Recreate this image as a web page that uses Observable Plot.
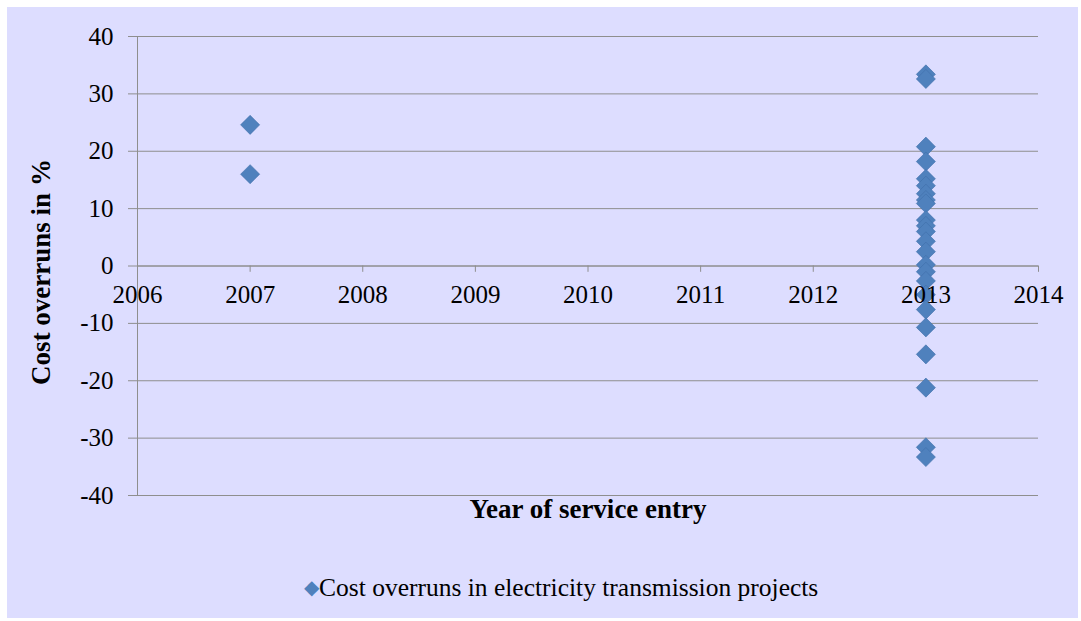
<!DOCTYPE html>
<html>
<head>
<meta charset="utf-8">
<script src="https://cdn.jsdelivr.net/npm/d3@7"></script>
<script src="https://cdn.jsdelivr.net/npm/@observablehq/plot@0.6"></script>
<style>
  html, body { margin: 0; padding: 0; background: #ffffff; }
  #wrap { position: relative; width: 1081px; height: 621px; overflow: hidden; }
  #bg { position: absolute; left: 7px; top: 7px; width: 1071px; height: 611px; background: #DDDDFF; }
  #chart { position: absolute; left: 0; top: 0; }
  #legend { position: absolute; left: 304px; top: 572px; white-space: nowrap; line-height: 30px;
    font-family: "Liberation Serif", "Times New Roman", serif; font-size: 25.5px; color: #000; }
  #legend .sw { color: #4F81BD; font-size: 20px; vertical-align: 2px; }
</style>
</head>
<body>
<div id="wrap">
  <div id="bg"></div>
  <div id="chart"></div>
  <div id="legend"><span class="sw">&#9670;</span>Cost overruns in electricity transmission projects</div>
</div>
<script>
// Data
const years2007 = [2007, 2007];
const values2007 = [24.6, 16.0];
const values2013 = [33.4, 32.6, 20.8, 18.2, 15.2, 14.0, 12.6, 11.5, 10.9, 8.0, 7.0, 6.0, 4.3, 2.5, 0.2, -1.0, -2.6, -5.0, -7.6, -10.7, -15.4, -21.2, -31.6, -33.3];
const xTicks = [2006, 2007, 2008, 2009, 2010, 2011, 2012, 2013, 2014];
const yTicks = [-40, -30, -20, -10, 0, 10, 20, 30, 40];
const xLabel = "Year of service entry";
const yLabel = "Cost overruns in %";
const seriesName = "Cost overruns in electricity transmission projects";

const points = [
  ...values2007.map((v, i) => ({year: years2007[i], value: v})),
  ...values2013.map(v => ({year: 2013, value: v}))
];

const font = "Liberation Serif, Times New Roman, serif";
const gridColor = "#8e8e8e";

const chart = Plot.plot({
  width: 1081,
  height: 621,
  marginLeft: 137,
  marginRight: 43,
  marginTop: 36,
  marginBottom: 126,
  style: {background: "transparent", fontFamily: font, fontSize: "25px", color: "#000"},
  x: {domain: [2006, 2014], axis: null},
  y: {domain: [-40, 40], axis: null},
  marks: [
    Plot.gridY(yTicks, {stroke: gridColor, strokeOpacity: 1, strokeWidth: 1}),
    Plot.axisY(yTicks, {tickSize: 9, tickPadding: 15, stroke: gridColor, strokeOpacity: 1, tickFormat: d => String(d), fontSize: 25, fill: "#000", label: null}),
    Plot.ruleX([2006], {stroke: gridColor, strokeWidth: 1}),
    Plot.ruleY([0], {stroke: gridColor, strokeWidth: 1}),
    Plot.ruleX(xTicks, {x: d => d, y1: 0, y2: -1.1, stroke: gridColor, strokeWidth: 1}),
    Plot.dot(points, {x: "year", y: "value", symbol: "diamond2", r: 8.6, fill: "#4F81BD", stroke: "#3f6fa9", strokeWidth: 0.6}),
    Plot.text(xTicks, {x: d => d, y: 0, dy: 29, text: d => String(d), fontSize: 25, fill: "#000"}),
    Plot.text([yLabel], {frameAnchor: "left", textAnchor: "middle", dx: -96, dy: 6, rotate: -90, fontWeight: "bold", fontSize: 27, fill: "#000"}),
    Plot.text([xLabel], {frameAnchor: "bottom", dy: 22, fontWeight: "bold", fontSize: 27, fill: "#000"})
  ]
});
document.getElementById("chart").appendChild(chart);
</script>
</body>
</html>
